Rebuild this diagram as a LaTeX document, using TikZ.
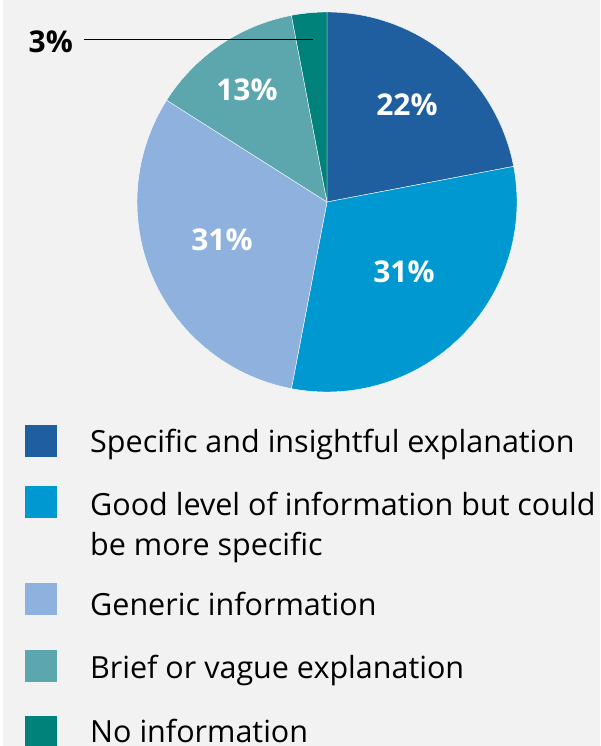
\documentclass[tikz,border=0pt]{standalone}
\usepackage{fontspec}
\setmainfont{Open Sans}
\usetikzlibrary{positioning}

\definecolor{sliceA}{HTML}{1F5FA0}
\definecolor{sliceB}{HTML}{0098D0}
\definecolor{sliceC}{HTML}{8EB1DE}
\definecolor{sliceD}{HTML}{5CA6AE}
\definecolor{sliceE}{HTML}{00827A}
\definecolor{bggray}{HTML}{F2F2F2}

\begin{document}
\begin{tikzpicture}[x=1pt,y=-1pt,
  slice/.style={draw=white,line width=0.4pt},
  pct/.style={font=\fontsize{30}{34}\selectfont\bfseries,text=white},
  key/.style={minimum size=32pt,inner sep=0pt,anchor=north west},
  keytext/.style={font=\fontsize{30.5}{40}\selectfont,anchor=base west,inner sep=0pt,align=left}]
  \useasboundingbox (0,0) rectangle (600,746);
  \fill[bggray] (3,0) rectangle (600,746);

  % pie, clockwise from the top (y runs downwards)
  \coordinate (c) at (327,202);
  \fill[sliceA,slice] (c) -- ++(-90:190) arc[start angle=-90,end angle=-10.8,radius=190] -- cycle;
  \fill[sliceB,slice] (c) -- ++(-10.8:190) arc[start angle=-10.8,end angle=100.8,radius=190] -- cycle;
  \fill[sliceC,slice] (c) -- ++(100.8:190) arc[start angle=100.8,end angle=212.4,radius=190] -- cycle;
  \fill[sliceD,slice] (c) -- ++(212.4:190) arc[start angle=212.4,end angle=259.2,radius=190] -- cycle;
  \fill[sliceE,slice] (c) -- ++(259.2:190) arc[start angle=259.2,end angle=270,radius=190] -- cycle;

  \node[pct] (pA) at (407,105) {22\%};
  \node[pct] (pB) at (404,272) {31\%};
  \node[pct] (pC) at (222,240) {31\%};
  \node[pct] (pD) at (247,90) {13\%};
  \node[pct,text=black,anchor=east,inner sep=0pt] (pE) at (73,42) {3\%};
  \coordinate (startE) at (84,39);
  \coordinate (tipE) at (313,39);
  \draw[line width=0.7pt] (startE) -- (tipE);

  % legend
  \node[key,fill=sliceA] (kA) at (25,425) {};
  \node[key,fill=sliceB] (kB) at (25,486) {};
  \node[key,fill=sliceC] (kC) at (25,583) {};
  \node[key,fill=sliceD] (kD) at (25,650) {};
  \node[key,fill=sliceE] (kE) at (25,716) {};
  \node[keytext] (tA) at (90,452) {Specific and insightful explanation};
  \node[keytext] (tB) at (90,555) {Good level of information but could\\be more specific};
  \node[keytext] (tC) at (90,615) {Generic information};
  \node[keytext] (tD) at (90,678) {Brief or vague explanation};
  \node[keytext] (tE) at (90,742) {No information};
\end{tikzpicture}
\end{document}
